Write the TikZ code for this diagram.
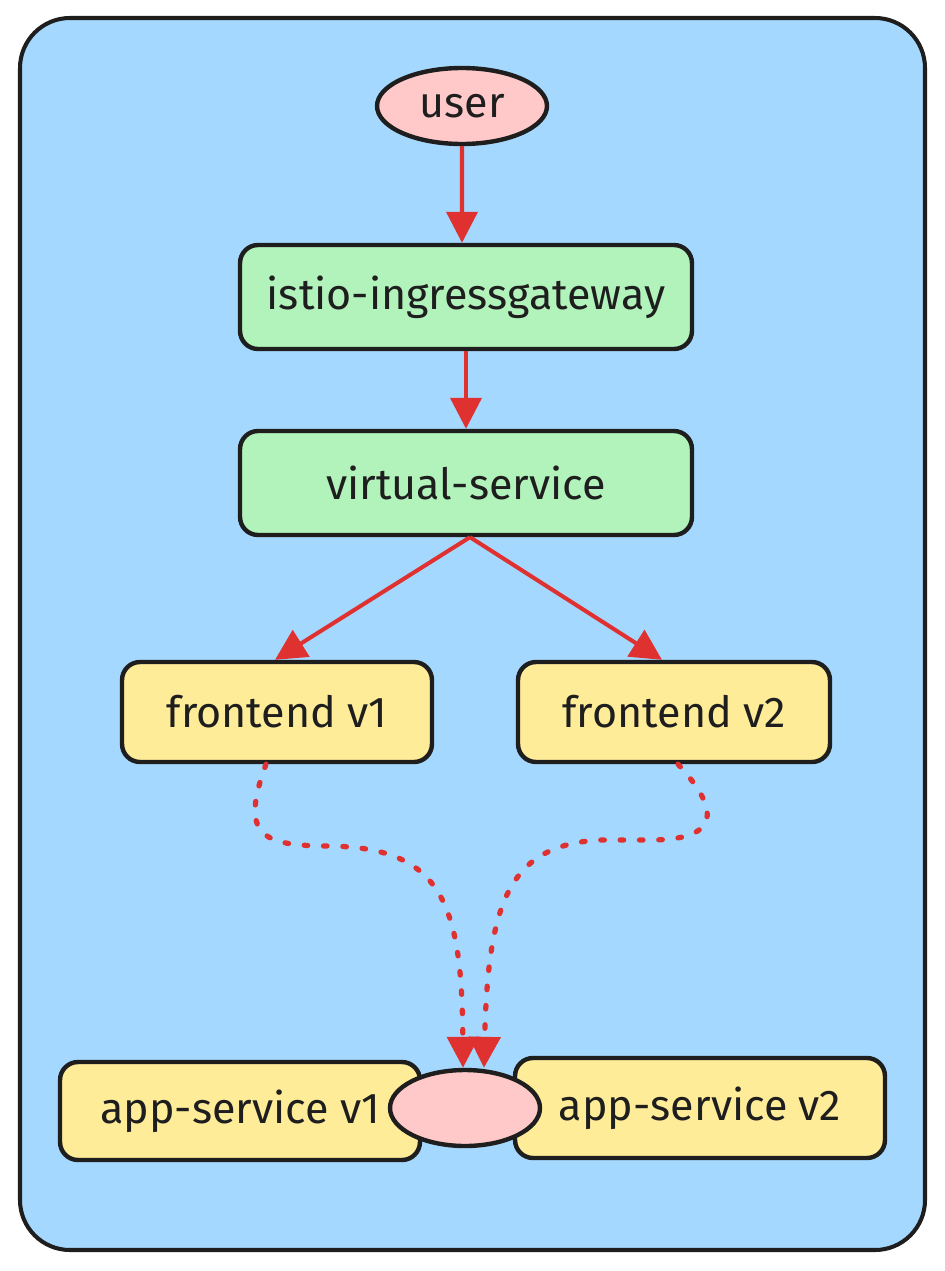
\documentclass[tikz,border=0pt]{standalone}
\usepackage{fontspec}
\setmainfont{Fira Sans}
\usetikzlibrary{shapes.geometric,arrows.meta}
\definecolor{panelblue}{HTML}{A5D8FF}
\definecolor{boxgreen}{HTML}{B2F2BB}
\definecolor{boxyellow}{HTML}{FFEC99}
\definecolor{rosepink}{HTML}{FFC9C9}
\definecolor{arrowred}{HTML}{E03131}
\definecolor{ink}{HTML}{1E1E1E}

\begin{document}
\begin{tikzpicture}[x=0.02cm,y=-0.02cm,
  every node/.style={font=\fontsize{24.5}{29}\selectfont,text=ink},
  gatebox/.style={draw=ink,line width=2.5pt,fill=boxgreen,rounded corners=0.36cm,
    minimum width=9.04cm,minimum height=2.08cm,inner sep=0pt},
  podbox/.style={draw=ink,line width=2.5pt,fill=boxyellow,rounded corners=0.36cm,
    minimum height=2cm,inner sep=0pt},
  blob/.style={ellipse,draw=ink,line width=2.5pt,fill=rosepink,inner sep=0pt},
  flow/.style={arrowred,line width=2.3pt,-{Triangle[length=0.62cm,width=0.62cm]}},
  lazyflow/.style={arrowred,line width=3pt,line cap=round,dash pattern=on 2pt off 9pt,
    -{Triangle[length=0.62cm,width=0.62cm]}}]
\def\rr{1cm}
\useasboundingbox (0,0) rectangle (944,1271);
\fill[white] (0,0) rectangle (944,1271);

% cluster panel
\draw[draw=ink,fill=panelblue,line width=2.3pt,rounded corners=\rr] (20,18) rectangle (925,1250);

\node[blob,minimum width=3.4cm,minimum height=1.52cm] (user) at (462,106) {user};
\node[gatebox] (gateway) at (466,297) {istio-ingressgateway};
\node[gatebox] (vsvc) at (466,483) {virtual-service};
\node[podbox,minimum width=6.2cm] (fe1) at (277,712) {frontend v1};
\node[podbox,minimum width=6.24cm] (fe2) at (674,712) {frontend v2};
\node[podbox,minimum width=7.2cm,minimum height=1.96cm] (app1) at (240,1111) {app-service v1};
\node[podbox,minimum width=7.4cm] (app2) at (700,1108) {app-service v2};
\node[blob,minimum width=3cm,minimum height=1.52cm] (appsvc) at (465,1108) {};

\coordinate (tipA) at ([xshift=-0.04cm]appsvc.north);
\coordinate (tipB) at ([xshift=0.38cm]appsvc.north);

\draw[flow] (user) -- ([xshift=-0.08cm]gateway.north);
\draw[flow] (gateway) -- (vsvc);
\draw[flow] ([xshift=0.08cm]vsvc.south) -- ([xshift=-0.04cm]fe1.north);
\draw[flow] ([xshift=0.08cm]vsvc.south) -- ([xshift=-0.24cm]fe2.north);

\draw[lazyflow] ([xshift=-0.22cm]fe1.south) .. controls (240,835) and (260,846) .. (330,846)
  .. controls (440,848) and (462,900) .. (tipA);
\draw[lazyflow] ([xshift=0.08cm]fe2.south) .. controls (725,815) and (715,840) .. (650,840)
  -- (600,840) .. controls (510,845) and (488,900) .. (tipB);

\end{tikzpicture}
\end{document}
